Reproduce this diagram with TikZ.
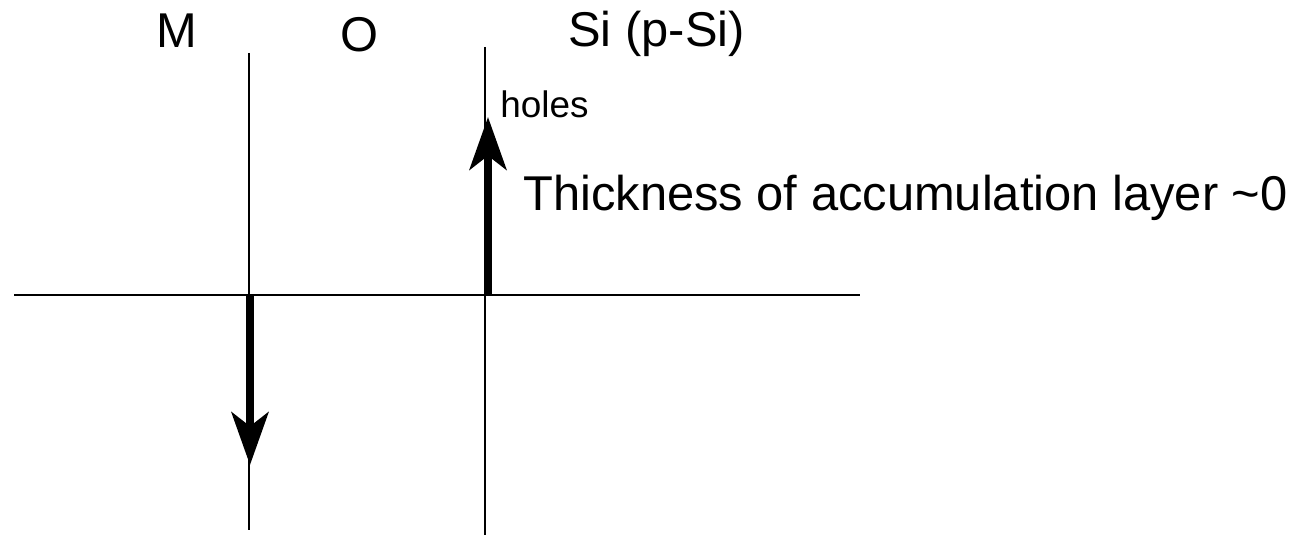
\documentclass[tikz,border=0pt]{standalone}
\usepackage{fontspec}
\setmainfont{Liberation Sans}
\usetikzlibrary{arrows.meta,positioning}

\begin{document}
\begin{tikzpicture}[
    lbl/.style={anchor=base west, inner sep=0pt, font=\fontsize{27.8}{33}\selectfont},
    thin line/.style={line width=1.3pt},
    flow/.style={line width=4.5pt, -{Stealth[length=30pt, width=21pt, inset=8pt]}}]
    \useasboundingbox (0,0) rectangle (26.12,10.7);
    % layer boundaries and axis
    \coordinate (mtop) at (4.98,9.64);
    \coordinate (mbot) at (4.98,0.1);
    \coordinate (stop) at (9.70,9.76);
    \coordinate (sbot) at (9.70,0);
    \coordinate (axl) at (0.28,4.8);
    \coordinate (axr) at (17.2,4.8);
    \draw[thin line] (mtop) -- (mbot);
    \draw[thin line] (stop) -- (sbot);
    \draw[thin line] (axl) -- (axr);
    % labels
    \node[lbl] (m) at (3.12,9.74) {M};
    \node[lbl] (o) at (6.80,9.66) {O};
    \node[lbl] (si) at (11.36,9.76) {Si (p-Si)};
    \node[lbl, font=\fontsize{21}{25}\selectfont] (holes) at (10.00,8.36) {holes};
    \node[lbl] (thick) at (10.46,6.5) {Thickness of accumulation layer \char`~0};
    % arrows
    \coordinate (up0) at (9.76,4.8);
    \coordinate (up1) at (9.76,8.36);
    \coordinate (dn0) at (5.0,4.8);
    \coordinate (dn1) at (5.0,1.4);
    \draw[flow] (up0) -- (up1);
    \draw[flow] (dn0) -- (dn1);
\end{tikzpicture}
\end{document}
